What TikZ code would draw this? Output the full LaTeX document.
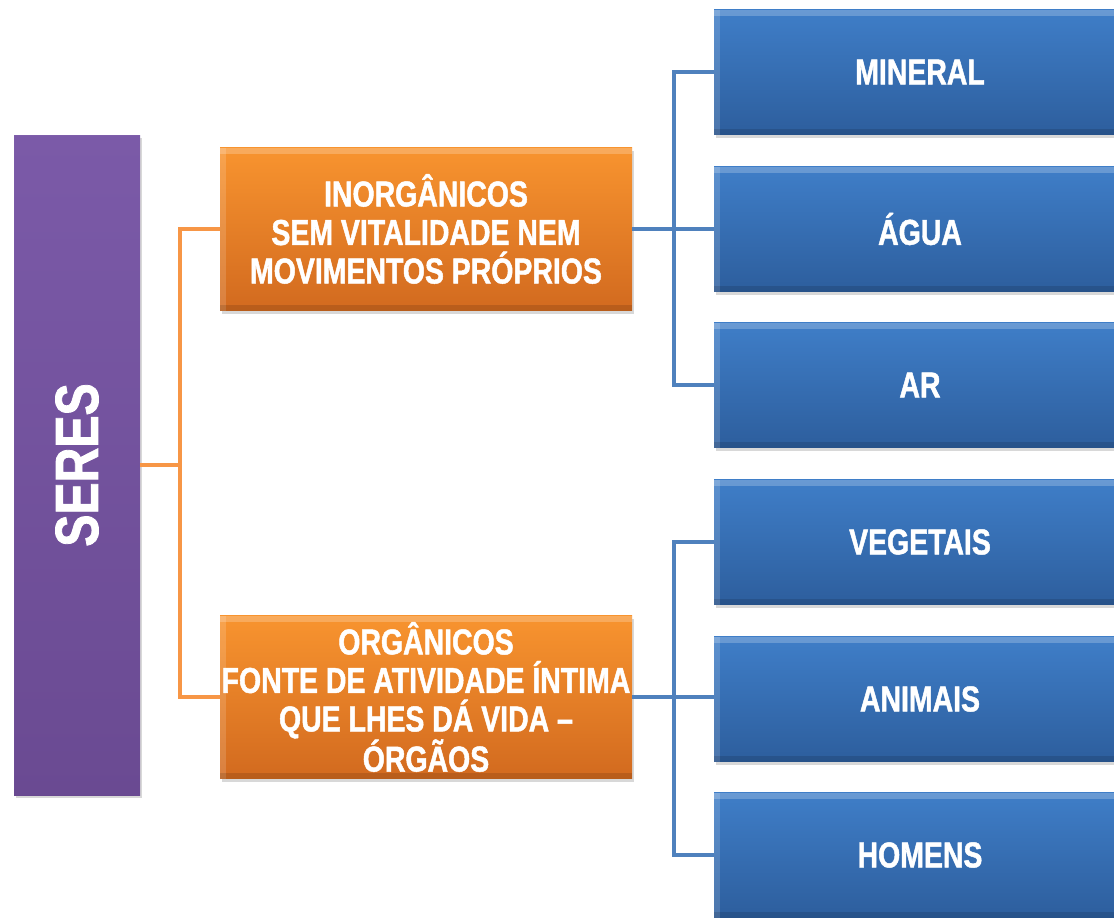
\documentclass[tikz,border=0pt]{standalone}
\usepackage{fontspec}
\newfontfamily\cond[FakeStretch=0.79, BoldFeatures={FakeStretch=0.79, FakeBold=1.3}]{Liberation Sans}
\usetikzlibrary{shadows}
\definecolor{purpTop}{HTML}{7B5AA8}
\definecolor{purpBot}{HTML}{6A4A92}
\definecolor{orTop}{HTML}{F8942F}
\definecolor{orBot}{HTML}{D26A1F}
\definecolor{blTop}{HTML}{3F7EC8}
\definecolor{blBot}{HTML}{2D5E9D}
\definecolor{orLine}{HTML}{F79646}
\definecolor{blLine}{HTML}{4F81BD}
\begin{document}
\begin{tikzpicture}[x=1pt,y=-1pt,
  box/.style={rectangle, inner sep=0pt, align=center, text=white,
    font=\cond\bfseries\fontsize{36}{38.5}\selectfont,
    drop shadow={opacity=0.3,shadow xshift=2pt,shadow yshift=-3pt},
    path picture={\fill[white,opacity=0.22] (path picture bounding box.north west) rectangle ([yshift=-6pt]path picture bounding box.north east);
      \fill[white,opacity=0.15] (path picture bounding box.north west) rectangle ([xshift=6pt]path picture bounding box.south west);
      \fill[black,opacity=0.12] (path picture bounding box.south west) rectangle ([yshift=6pt]path picture bounding box.south east);}},
  purp/.style={box, top color=purpTop, bottom color=purpBot, minimum width=660pt, minimum height=126pt, rotate=90,
    font=\cond\bfseries\fontsize{61}{64}\selectfont},
  orbox/.style={box, top color=orTop, bottom color=orBot, minimum width=412pt, minimum height=163pt},
  blbox/.style={box, top color=blTop, bottom color=blBot, minimum width=412pt, minimum height=125pt},
  orl/.style={draw=orLine, line width=3.5pt},
  bll/.style={draw=blLine, line width=3.5pt}]
\useasboundingbox (0,0) rectangle (1114,918);
\fill[white] (0,0) rectangle (1114,918);
\clip (0,0) rectangle (1114,918);

\node[purp] (seres) at (77,465) {SERES};

\node[orbox] (inorg) at (426,229) {INORGÂNICOS\\SEM VITALIDADE NEM\\MOVIMENTOS PRÓPRIOS};
\node[orbox] (org) at (426,697) {ORGÂNICOS\\FONTE DE ATIVIDADE ÍNTIMA\\QUE LHES DÁ VIDA –\\ÓRGÃOS};

\node[blbox] (mineral) at (920,72) {MINERAL};
\node[blbox] (agua) at (920,229) {ÁGUA};
\node[blbox] (ar) at (920,385) {AR};
\node[blbox] (veg) at (920,542) {VEGETAIS};
\node[blbox] (anim) at (920,699) {ANIMAIS};
\node[blbox] (hom) at (920,855) {HOMENS};

\coordinate (oj) at (180,465);
\coordinate (bj1) at (674,229);
\coordinate (bj2) at (674,697);

\draw[orl] (seres.south) -- (oj);
\draw[orl] (inorg.west) -| (oj) |- (org.west);

\draw[bll] (mineral.west) -| (bj1) |- (ar.west);
\draw[bll] (inorg.east) -- (agua.west);
\draw[bll] (veg.west) -| (bj2) |- (hom.west);
\draw[bll] (org.east) -- (org.east -| anim.west);
\end{tikzpicture}
\end{document}
